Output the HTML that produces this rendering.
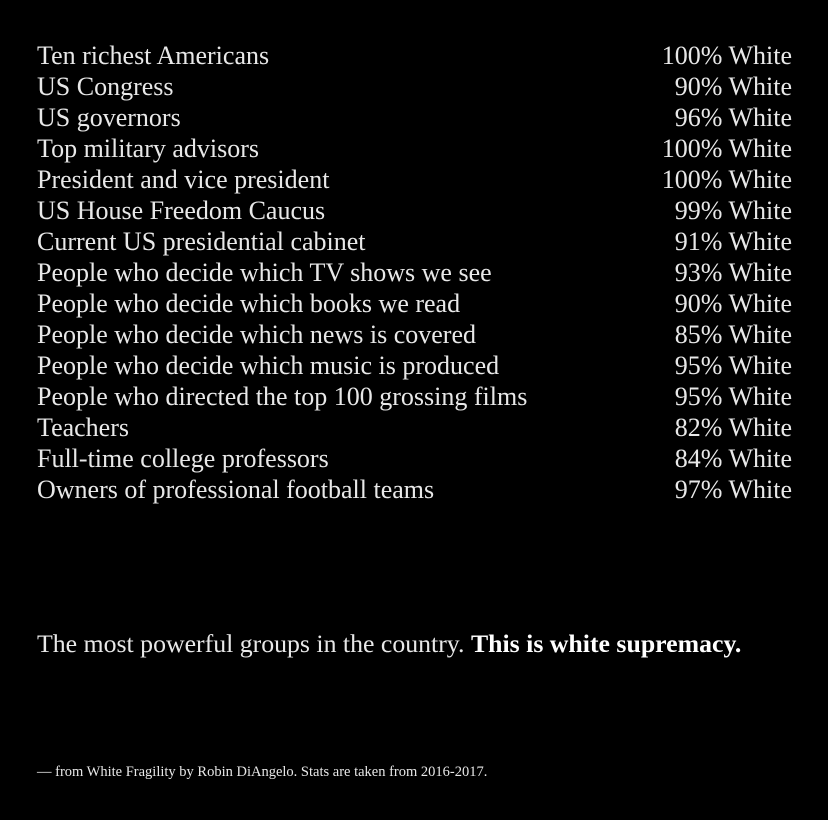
<!DOCTYPE html>
<html><head><meta charset="utf-8"><style>
html,body{margin:0;padding:0;background:#000;}
body{width:828px;height:820px;position:relative;overflow:hidden;font-family:"Liberation Serif",serif;color:#e8e8e8;}
.row{position:absolute;left:37px;width:755px;height:31px;line-height:31px;font-size:26px;}
.row .l{position:absolute;left:0;white-space:nowrap;}
.row .r{position:absolute;right:0;white-space:nowrap;}
#caption{position:absolute;left:37px;top:628px;font-size:25.8px;line-height:31px;white-space:nowrap;}
#caption b{color:#fff;}
#footer{position:absolute;left:37px;top:763px;font-size:14.5px;line-height:18px;white-space:nowrap;}
</style></head><body>
<div id="list"></div>
<div id="caption">The most powerful groups in the country. <b>This is white supremacy.</b></div>
<div id="footer">— from White Fragility by Robin DiAngelo. Stats are taken from 2016-2017.</div>
<script>
const groups=["Ten richest Americans","US Congress","US governors","Top military advisors","President and vice president","US House Freedom Caucus","Current US presidential cabinet","People who decide which TV shows we see","People who decide which books we read","People who decide which news is covered","People who decide which music is produced","People who directed the top 100 grossing films","Teachers","Full-time college professors","Owners of professional football teams"];
const percents=[100,90,96,100,100,99,91,93,90,85,95,95,82,84,97];
const list=document.getElementById('list');
groups.forEach((g,i)=>{
  const row=document.createElement('div');
  row.className='row';
  row.style.top=(40+i*31)+'px';
  
  
  const l=document.createElement('span');l.className='l';l.textContent=g;
  
  
  const r=document.createElement('span');r.className='r';r.textContent=percents[i]+'% White';
  
  
  row.appendChild(l);row.appendChild(r);list.appendChild(row);
});
</script>
</body></html>
